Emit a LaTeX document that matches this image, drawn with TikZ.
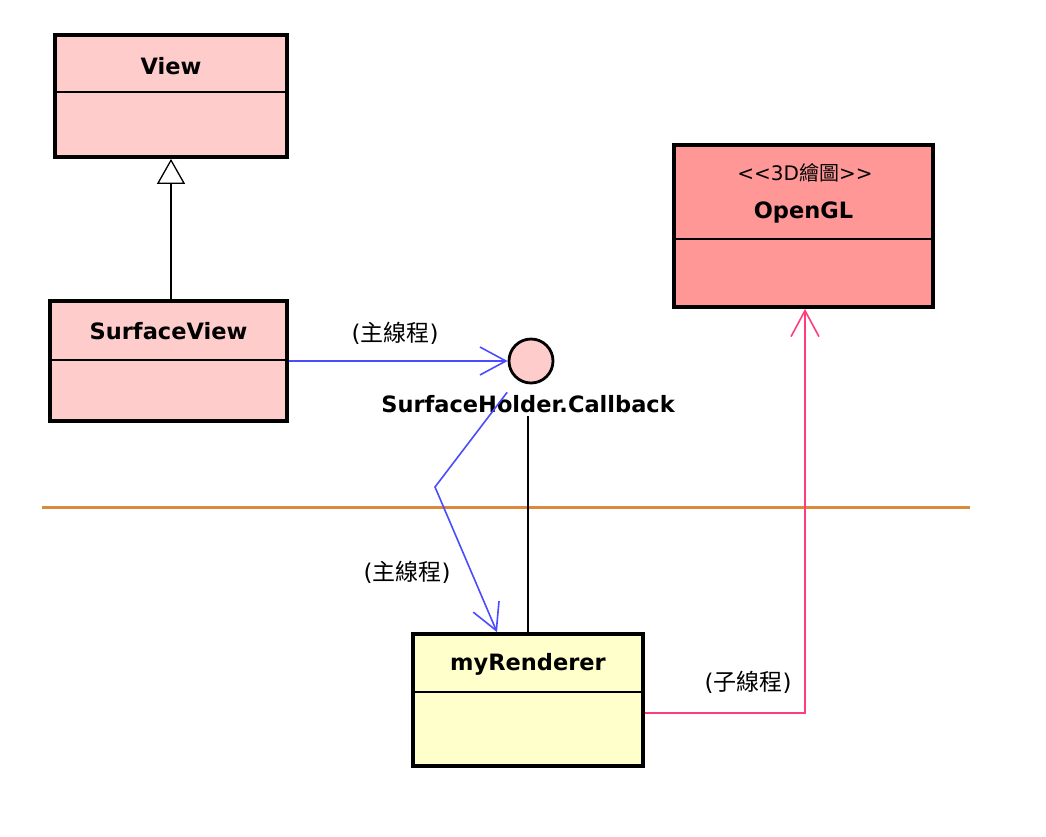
\documentclass[tikz,border=0pt]{standalone}
\usepackage{fontspec}
\setmainfont{DejaVu Sans}
\newfontfamily\cjk{Noto Sans CJK TC}
\usepackage{tikz}
\usetikzlibrary{arrows.meta}
\definecolor{classpink}{HTML}{FFCCCC}
\definecolor{glred}{HTML}{FF9797}
\definecolor{renderyellow}{HTML}{FFFFCC}
\definecolor{mainblue}{HTML}{4B4BFF}
\definecolor{subpink}{HTML}{FF3C7C}
\definecolor{seporange}{HTML}{DB8A3C}

\begin{document}
\begin{tikzpicture}[x=1pt,y=-1pt,
cls/.style={draw, line width=3.8pt, inner sep=0pt},
clsname/.style={font=\bfseries\fontsize{22.5}{26}\selectfont},
note/.style={font=\fontsize{23}{27}\selectfont},
divider/.style={line width=1.3pt},
mainthread/.style={draw=mainblue, line width=1.6pt, -{Straight Barb[length=26pt,width=28pt]}},
subthread/.style={draw=subpink, line width=1.6pt, -{Straight Barb[length=26pt,width=28pt]}}]
\useasboundingbox (0,0) rectangle (1046,836);
% class boxes
\node[cls, fill=classpink, minimum width=232pt, minimum height=122pt] (view) at (171,96) {}; \node[clsname] (viewname) at (171,66) {View};
\node[cls, fill=classpink, minimum width=237pt, minimum height=120pt] (surfaceview) at (168.5,361) {}; \node[clsname] (svname) at (168.5,331) {SurfaceView};
\node[cls, fill=glred, minimum width=259pt, minimum height=162pt] (opengl) at (803.5,226) {}; \node[note, font=\fontsize{20}{24}\selectfont] (glstereo) at (805,173) {<\kern0pt<3D{\cjk 繪圖}>\kern0pt>}; \node[clsname] (glname) at (803.5,212) {OpenGL};
\node[cls, fill=renderyellow, minimum width=230pt, minimum height=132pt] (renderer) at (528,700) {}; \node[clsname] (rname) at (528,664) {myRenderer};
\draw[divider] (view.west |- 0,92) -- (view.east |- 0,92);
\draw[divider] (surfaceview.west |- 0,360) -- (surfaceview.east |- 0,360);
\draw[divider] (opengl.west |- 0,239) -- (opengl.east |- 0,239);
\draw[divider] (renderer.west |- 0,692) -- (renderer.east |- 0,692);
% interface
\node[circle, draw, line width=2.8pt, fill=classpink, minimum size=44pt, inner sep=0pt] (callback) at (531,361) {};
\node[clsname] (cbname) at (528,404) {SurfaceHolder.Callback};
% separator
\coordinate (sepl) at (42,507); \coordinate (sepr) at (970,507); \coordinate (bend) at (435,487);
\draw[seporange, line width=3pt] (sepl) -- (sepr);
% connectors
\draw[line width=1.3pt, -{Triangle[open, length=25pt, width=28pt, fill=white]}] (view.south |- surfaceview.north) -- (view.south);
\draw[mainthread] (surfaceview.east) -- (callback.west);
\draw[mainthread, shorten <=16pt] (callback) -- (bend) -- ([xshift=-31pt]renderer.north);
\draw[line width=1.3pt] (cbname.south) -- (renderer.north);
\draw[subthread] ([yshift=-13pt]renderer.east) -| ([xshift=1.5pt]opengl.south);
% labels
\node[note] (mainlbl) at (395,333) {({\cjk 主線程})}; \node[note] (mainlbl2) at (407,572) {({\cjk 主線程})}; \node[note] (sublbl) at (748,682) {({\cjk 子線程})};
\end{tikzpicture}
\end{document}
